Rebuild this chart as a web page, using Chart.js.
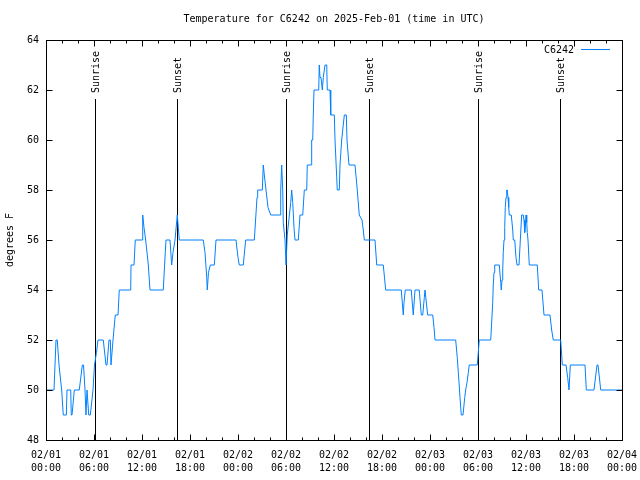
<!DOCTYPE html>
<html>
<head>
<title>Temperature for C6242</title>
<script src="https://cdn.jsdelivr.net/npm/chart.js"></script>
<style>
    body { margin: 0; background: #fff; }
    .chart-box { width: 640px; height: 480px; }
</style>
</head>
<body>
<div class="chart-box">
    <canvas id="tempChart" width="640" height="480"></canvas>
</div>
<script>
    // hours since 02/01 00:00 UTC, and temperature (F)
    var hours = [
        0, 1.0, 1.125, 1.25, 1.41, 1.625, 1.96, 2.16, 2.54, 2.625, 3.09, 3.16, 3.25, 3.54, 4.16, 4.54, 4.69, 4.875, 5.0, 5.125,
        5.34, 5.54, 5.875, 6.06, 6.31, 6.5, 7.16, 7.5, 7.625, 7.875, 8.04, 8.125, 8.375, 8.66, 9.0, 9.16, 10.59,
        10.625, 11.0, 11.16, 12.04, 12.09, 12.25, 12.46, 12.79, 13.0, 14.66, 14.91, 15.0, 15.5, 15.71, 15.875, 16.125, 16.41,
        16.54, 16.66, 19.66, 19.875, 20.09, 20.16, 20.31, 20.54, 21.04, 21.25, 23.75, 24.0, 24.16, 24.66, 24.96, 26.04,
        26.375, 26.46, 27.04, 27.16, 27.29, 27.5, 27.75, 28.09, 29.25, 29.34, 29.46, 29.59, 29.66, 29.875, 30.0, 30.16,
        30.29, 30.59, 30.71, 30.84, 31.0, 31.125, 31.54, 31.75, 32.09, 32.29, 32.59, 32.66, 33.125, 33.21, 33.34, 33.41,
        33.5, 34.09, 34.16, 34.25, 34.375, 34.54, 34.66, 34.875, 35.09, 35.16, 35.5, 35.59, 36.04, 36.125, 36.34, 36.41,
        36.66, 36.75, 36.96, 37.29, 37.54, 37.625, 37.875, 38.625, 38.91, 39.16, 39.5, 39.66, 39.79, 41.125, 41.34, 42.16,
        42.46, 44.41, 44.66, 44.75, 44.91, 45.66, 45.91, 46.125, 46.66, 46.91, 47.09, 47.29, 47.375, 47.71, 48.34, 48.5,
        48.625, 51.21, 51.41, 51.54, 51.625, 51.75, 51.91, 52.125, 52.34, 52.46, 52.625, 52.79, 52.91, 53.91, 54.16, 55.59,
        55.84, 55.91, 56.0, 56.09, 56.66, 56.84, 56.91, 57.0, 57.09, 57.16, 57.25, 57.34, 57.41, 57.5, 57.59, 57.66, 57.75,
        57.84, 57.91, 58.16, 58.34, 58.41, 58.59, 58.75, 58.875, 59.125, 59.29, 59.46, 59.66, 59.75, 59.84, 59.91, 60.0,
        60.09, 60.16, 60.25, 60.41, 61.41, 61.59, 62.0, 62.25, 63.0, 63.21, 63.41, 64.34, 64.54, 65.0, 65.21, 65.375,
        65.54, 67.375, 67.54, 68.5, 68.875, 69.0, 69.34, 72
    ];
    var temps = [
        50, 50, 51, 52, 52, 51, 50, 49, 49, 50, 50, 49, 49, 50, 50, 51, 51, 50, 49, 50,
        49, 49, 50, 51, 51.5, 52, 52, 51, 51, 52, 52, 51, 52, 53, 53, 54, 54,
        55, 55, 56, 56, 57, 56.5, 56, 55, 54, 54, 55.5, 56, 56, 55, 55.5, 56, 57,
        56.5, 56, 56, 55.5, 54.5, 54, 54.7, 55, 55, 56, 56, 55.3, 55, 55, 56, 56,
        57.7, 58, 58, 59, 58.6, 58, 57.3, 57, 57, 58, 59, 58, 56.7, 56, 55, 56.2,
        56.6, 57.5, 58, 57.5, 56.5, 56, 56, 57, 57, 58, 58, 59, 59, 60, 60, 61,
        62, 62, 63, 62.5, 62.5, 62, 62.5, 63, 63, 62, 62, 61, 61, 60, 58.5, 58,
        58, 59, 60, 61, 61, 60, 59, 59, 58, 57, 56.8, 56.4, 56, 56, 55, 55,
        54, 54, 53, 53.5, 54, 54, 53, 54, 54, 53, 53, 53.7, 54, 53, 53, 52.5,
        52, 52, 51.3, 50.7, 50.3, 49.7, 49, 49, 49.7, 50, 50.3, 50.7, 51, 51, 52, 52,
        53.5, 54.2, 54.7, 55, 55, 54.3, 54, 54.4, 54.8, 55.5, 56, 56.5, 57.3, 57.7, 58, 58, 57.7,
        57.3, 57, 57, 56.4, 56, 56, 55.3, 55, 55, 56, 57, 57, 56.8, 56.3, 56.5, 57,
        56.7, 56.3, 56, 55, 55, 54, 54, 53, 53, 52.4, 52, 52, 51, 51, 50.5, 50,
        51, 51, 50, 50, 51, 51, 50, 50
    ];

    var sunLabels = ['Sunrise', 'Sunset', 'Sunrise', 'Sunset', 'Sunrise', 'Sunset'];
    var sunHours = [6.2, 16.45, 30.12, 40.4, 54.12, 64.25];

    var dayLabels = ['02/01', '02/02', '02/03', '02/04'];
    var chartTitle = 'Temperature for C6242 on 2025-Feb-01 (time in UTC)';
    var seriesName = 'C6242';
    var yTitle = 'degrees F';

    var monoFont = '"DejaVu Sans Mono", "Liberation Mono", monospace';
    var lineColor = 'rgb(0, 128, 255)';

    // gnuplot style frame, inward ticks, sun markers, title and key
    var gnuplotLook = {
        id: 'gnuplotLook',
        beforeDatasetsDraw: function (chart) {
            var ctx = chart.ctx, a = chart.chartArea, xs = chart.scales.x;
            ctx.save();
            ctx.strokeStyle = '#000';
            ctx.lineWidth = 1;
            ctx.fillStyle = '#000';
            ctx.font = '10px ' + monoFont;
            sunHours.forEach(function (h, i) {
                var px = Math.floor(xs.getPixelForValue(h)) + 0.5;
                ctx.beginPath();
                ctx.moveTo(px, 99);
                ctx.lineTo(px, a.bottom);
                ctx.stroke();
                ctx.save();
                ctx.translate(px + 1, 93);
                ctx.rotate(-Math.PI / 2);
                ctx.textAlign = 'left';
                ctx.textBaseline = 'middle';
                ctx.fillText(sunLabels[i], 0, 0);
                ctx.restore();
            });
            ctx.restore();
        },
        afterDraw: function (chart) {
            var ctx = chart.ctx, a = chart.chartArea;
            var xs = chart.scales.x, ys = chart.scales.y;
            ctx.save();
            ctx.strokeStyle = '#000';
            ctx.lineWidth = 1;
            var L = Math.round(a.left) + 0.5, R = Math.round(a.right) + 0.5;
            var T = Math.round(a.top) + 0.5, B = Math.round(a.bottom) + 0.5;
            ctx.beginPath();
            // x ticks every 2 h, major every 6 h
            for (var h = 0; h <= 72; h += 2) {
                var px = Math.round(xs.getPixelForValue(h)) + 0.5;
                var len = h % 6 === 0 ? 6 : 3;
                ctx.moveTo(px, B); ctx.lineTo(px, B - len);
                ctx.moveTo(px, T); ctx.lineTo(px, T + len);
            }
            ys.ticks.forEach(function (t) {
                var py = Math.round(ys.getPixelForValue(t.value)) + 0.5;
                ctx.moveTo(L, py); ctx.lineTo(L + 6, py);
                ctx.moveTo(R, py); ctx.lineTo(R - 6, py);
            });
            ctx.stroke();
            ctx.strokeRect(L, T, R - L, B - T);

            ctx.fillStyle = '#000';
            ctx.font = '10px ' + monoFont;
            ctx.textAlign = 'center';
            ctx.textBaseline = 'middle';
            ctx.fillText(chartTitle, (a.left + a.right) / 2, 19);

            ctx.save();
            ctx.translate(10, (a.top + a.bottom) / 2);
            ctx.rotate(-Math.PI / 2);
            ctx.fillText(yTitle, 0, 0);
            ctx.restore();

            // key
            ctx.textAlign = 'right';
            ctx.fillText(seriesName, 574, 50);
            ctx.strokeStyle = lineColor;
            ctx.beginPath();
            ctx.moveTo(581, 49.5);
            ctx.lineTo(610, 49.5);
            ctx.stroke();
            ctx.restore();
        }
    };

    var points = hours.map(function (h, i) { return { x: h, y: temps[i] }; });

    var ctx = document.getElementById('tempChart').getContext('2d');
    var tempChart = new Chart(ctx, {
        type: 'line',
        data: {
            datasets: [{
                label: seriesName,
                data: points,
                borderColor: lineColor,
                borderWidth: 1,
                pointRadius: 0,
                tension: 0,
                fill: false
            }]
        },
        options: {
            responsive: false,
            animation: false,
            layout: { padding: { left: 0, right: 18, top: 40, bottom: 0 } },
            plugins: {
                legend: { display: false },
                title: { display: false },
                tooltip: { enabled: false }
            },
            scales: {
                x: {
                    type: 'linear',
                    min: 0,
                    max: 72,
                    grid: { display: false, drawTicks: false },
                    border: { display: false },
                    ticks: {
                        stepSize: 6,
                        autoSkip: false,
                        maxRotation: 0,
                        padding: 9,
                        color: '#000',
                        font: { family: monoFont, size: 10, lineHeight: 1.3 },
                        callback: function (v) {
                            var day = dayLabels[Math.floor(v / 24)];
                            var hh = v % 24;
                            return [day, (hh < 10 ? '0' : '') + hh + ':00'];
                        }
                    },
                    afterFit: function (s) {
                        s.height = 40;
                        s.paddingLeft = 0;
                        s.paddingRight = 0;
                    }
                },
                y: {
                    min: 48,
                    max: 64,
                    grid: { display: false, drawTicks: false },
                    border: { display: false },
                    ticks: {
                        stepSize: 2,
                        padding: 7,
                        color: '#000',
                        font: { family: monoFont, size: 10 }
                    },
                    afterFit: function (s) {
                        s.width = 46;
                        s.paddingTop = 0;
                        s.paddingBottom = 0;
                    }
                }
            }
        },
        plugins: [gnuplotLook]
    });
</script>
</body>
</html>
